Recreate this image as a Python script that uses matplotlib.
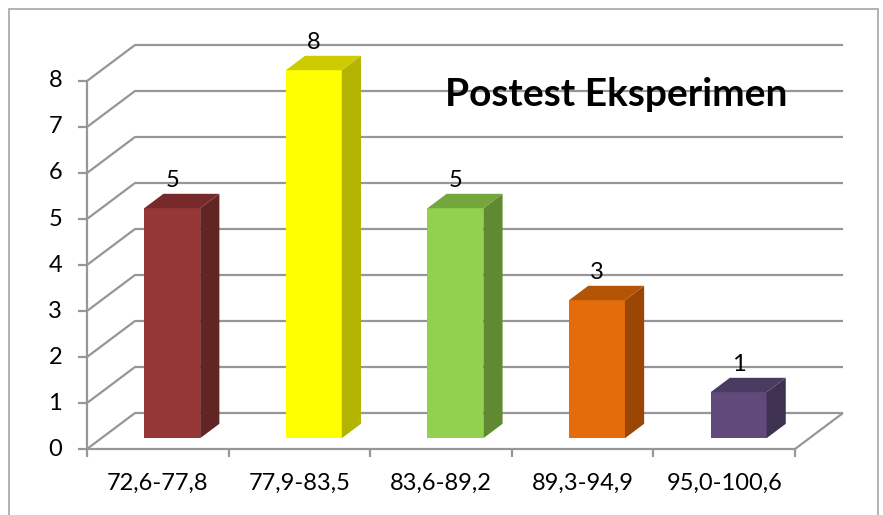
import matplotlib.pyplot as plt
from matplotlib.patches import Polygon, Rectangle

categories = ['72,6-77,8', '77,9-83,5', '83,6-89,2', '89,3-94,9', '95,0-100,6']
counts = [5, 8, 5, 3, 1]
yticks = [0, 1, 2, 3, 4, 5, 6, 7, 8]
title = 'Postest Eksperimen'

front_colors = ['#953735', '#ffff00', '#92d050', '#e46c0a', '#604a7b']
side_colors = ['#632523', '#b3b300', '#5f8a32', '#9a4706', '#3f3150']
top_colors = ['#772a29', '#cccc00', '#74a63e', '#b45407', '#4b3a61']

plt.rcParams['font.family'] = ['Lato', 'DejaVu Sans']

W, H = 883, 515
fig = plt.figure(figsize=(W / 100, H / 100), dpi=100)
ax = fig.add_axes([0, 0, 1, 1])

# map data units onto the pixel layout of the original
x0px, catpx = 87, 141.6
y0px, unitpx = 449, 46
ax.set_xlim(-x0px / catpx, (W - x0px) / catpx)
ax.set_ylim((y0px - H) / unitpx, y0px / unitpx)
ax.axis('off')

n = len(categories)
ymax = yticks[-1]
ddx, ddy = 48 / catpx, 36 / unitpx  # depth of the 3d box
grid = dict(color='#979797', lw=1.6, solid_capstyle='butt', zorder=1)

# walls and gridlines
for k in yticks:
    ax.plot([0, ddx, n + ddx], [k, k + ddy, k + ddy], **grid)
ax.plot([0, 0], [0, ymax], **grid)
ax.plot([0, n, n + ddx], [0, 0, ddy], **grid)

# ticks + labels
tx = 9 / catpx
for k in yticks:
    ax.plot([-tx, 0], [k, k], **grid)
    ax.text(-tx - 16 / catpx, k, str(k), ha='right', va='center', fontsize=17)
for i in range(n + 1):
    ax.plot([i, i], [0, -8 / unitpx], **grid)
for i, lab in enumerate(categories):
    ax.text(i + 0.5, -34 / unitpx, lab, ha='center', va='center', fontsize=17)

# 3d bars
bw = 0.395
f, bd = 0.3, 0.4
bdx, bdy = bd * ddx, bd * ddy
for i, v in enumerate(counts):
    xl = i + 0.5 - bw / 2 + f * ddx
    yb = f * ddy
    ax.add_patch(Rectangle((xl, yb), bw, v, fc=front_colors[i], ec='none', zorder=3))
    ax.add_patch(Polygon([(xl + bw, yb), (xl + bw + bdx, yb + bdy),
                          (xl + bw + bdx, yb + v + bdy), (xl + bw, yb + v)],
                         fc=side_colors[i], ec='none', zorder=3))
    ax.add_patch(Polygon([(xl, yb + v), (xl + bdx, yb + v + bdy),
                          (xl + bw + bdx, yb + v + bdy), (xl + bw, yb + v)],
                         fc=top_colors[i], ec='none', zorder=3))
    ax.text(xl + bw / 2, yb + v + bdy + 3 / unitpx, str(v), ha='center', va='bottom',
            fontsize=17, zorder=4)

fig.text(616 / W, 1 - 95 / H, title, ha='center', va='center', fontsize=28,
         fontweight='bold')

# chart border
fig.add_artist(Rectangle((9 / W, -0.05), (878 - 9) / W, 1.05 - 9 / H,
                         transform=fig.transFigure, fill=False, ec='#a6a6a6', lw=1.2))

fig.savefig('out.png', dpi=100)
